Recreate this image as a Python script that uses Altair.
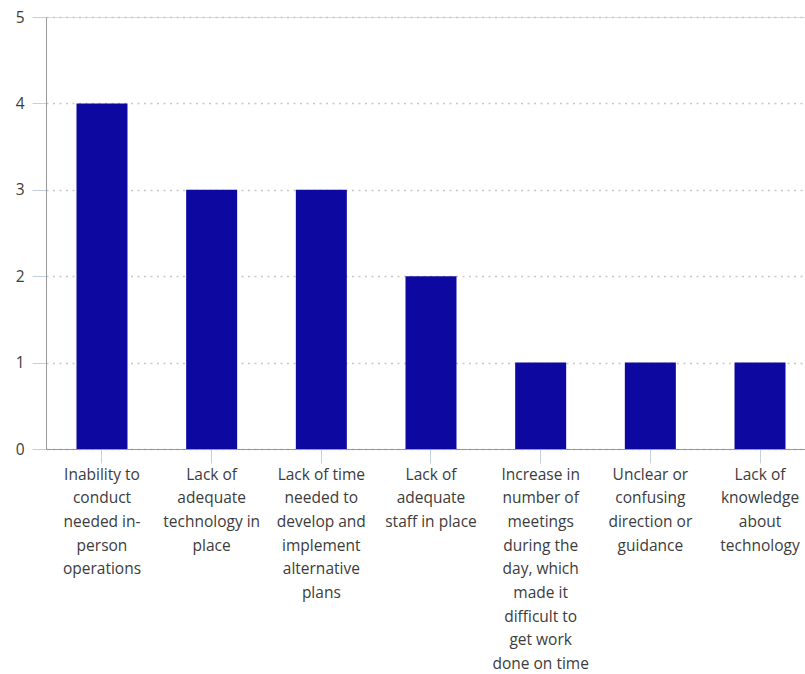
import altair as alt
import pandas as pd

categories = [
    "Inability to|conduct|needed in-|person|operations",
    "Lack of|adequate|technology in|place",
    "Lack of time|needed to|develop and|implement|alternative|plans",
    "Lack of|adequate|staff in place",
    "Increase in|number of|meetings|during the|day, which|made it|difficult to|get work|done on time",
    "Unclear or|confusing|direction or|guidance",
    "Lack of|knowledge|about|technology",
]
values = [4, 3, 3, 2, 1, 1, 1]
y_ticks = [0, 1, 2, 3, 4, 5]

df = pd.DataFrame({"category": categories, "value": values})

FONT = "Open Sans"

chart = alt.Chart(df).mark_bar(color="#0c08a0").encode(
    x=alt.X(
        "category:N",
        sort=categories,
        scale=alt.Scale(range=[0, 770], paddingInner=0.535, paddingOuter=0.278),
        axis=alt.Axis(
            title=None,
            labelAngle=0,
            labelExpr="split(datum.value, '|')",
            labelBaseline="top",
            labelAlign="center",
            labelLineHeight=23.7,
            labelPadding=4,
            labelLimit=0,
            labelFont=FONT,
            labelFontSize=15.5,
            labelColor="#3c3c3c",
            tickColor="#c0d0e0",
            tickSize=14,
            domainColor="#999999",
            grid=False,
            zindex=1,
        ),
    ),
    y=alt.Y(
        "value:Q",
        scale=alt.Scale(domain=[0, 5], nice=False),
        axis=alt.Axis(
            title=None,
            values=y_ticks,
            labelFont=FONT,
            labelFontSize=15.5,
            labelColor="#3c3c3c",
            labelPadding=8,
            tickColor="#c0d0e0",
            tickSize=14,
            domainColor="#999999",
            grid=True,
            gridColor="#c8c8c8",
            gridDash=[2, 4.5],
            gridWidth=1.5,
        ),
    ),
).properties(
    width=759,
    height=432,
    padding={"top": 17, "left": 46, "right": 0, "bottom": 225},
    autosize=alt.AutoSizeParams(type="none"),
).configure_view(stroke=None).configure(background="white")

chart.save("out.html", embed_options={"renderer": "svg", "actions": False})
